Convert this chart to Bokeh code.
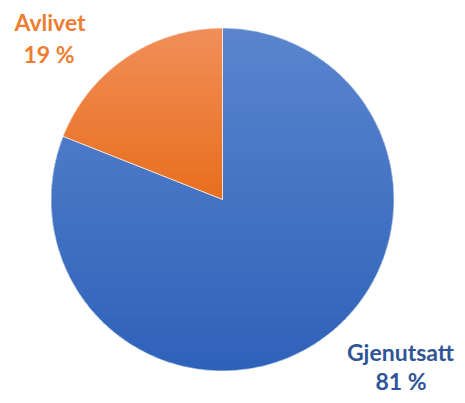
import numpy as np
from bokeh.plotting import figure
from bokeh.models import Range1d
from bokeh.embed import file_html
from bokeh.resources import INLINE
from bokeh.core.properties import value

# ---- data ----
categories = ["Gjenutsatt", "Avlivet"]
shares = [81, 19]
pct_labels = ["81 %", "19 %"]

# ---- style ----
grad_top = ["#5B85CE", "#F18F5A"]
grad_bottom = ["#2E62B9", "#E86E1D"]
label_colors = ["#2F5597", "#ED7D31"]

W, H = 457, 395
CX, CY = 222, 199  # pie centre in pixels from top-left
R = 171.5
p = figure(width=W, height=H, output_backend="svg", toolbar_location=None,
           x_range=Range1d(-CX, W - CX), y_range=Range1d(-(H - CY), CY),
           min_border=0)
p.axis.visible = False
p.grid.visible = False
p.outline_line_color = None
p.background_fill_color = "white"
p.border_fill_color = "white"


def hex2rgb(h):
    h = h.lstrip("#")
    return np.array([int(h[i:i + 2], 16) for i in (0, 2, 4)], dtype=float)


def rgb2hex(c):
    return "#%02x%02x%02x" % tuple(int(round(v)) for v in c)


def clip(poly, yv, keep_above):
    out = []
    n = len(poly)
    for i in range(n):
        a = poly[i]
        b = poly[(i + 1) % n]
        ina = a[1] >= yv if keep_above else a[1] <= yv
        inb = b[1] >= yv if keep_above else b[1] <= yv
        if ina:
            out.append(a)
        if ina != inb:
            t = (yv - a[1]) / (b[1] - a[1])
            out.append((a[0] + t * (b[0] - a[0]), yv))
    return out


total = float(sum(shares))
start = np.pi / 2
xs_all, ys_all, cols_all = [], [], []
wedges = []
for k, s in enumerate(shares):
    sweep = 2 * np.pi * s / total
    end = start - sweep
    th = np.linspace(start, end, max(12, int(500 * s / total)))
    poly = [(0.0, 0.0)] + [(R * np.cos(t), R * np.sin(t)) for t in th]
    wedges.append((end, start))
    ymin = min(q[1] for q in poly)
    ymax = max(q[1] for q in poly)
    N = 80
    ct, cb = hex2rgb(grad_top[k]), hex2rgb(grad_bottom[k])
    step = (ymax - ymin) / N
    for i in range(N):
        y1 = ymax - step * i + (1.2 if i > 0 else 0.0)  # overlap previous band
        y0 = ymax - step * (i + 1)
        band = clip(clip(poly, y0, True), y1, False)
        if len(band) < 3:
            continue
        f = (i + 0.5) / N
        xs_all.append([q[0] for q in band])
        ys_all.append([q[1] for q in band])
        cols_all.append(rgb2hex(ct + (cb - ct) * f))
    start = end

p.patches(xs_all, ys_all, fill_color=cols_all, line_color=None)

# thin light separators
p.wedge(x=[0, 0], y=[0, 0], radius=R,
        start_angle=[w[0] for w in wedges], end_angle=[w[1] for w in wedges],
        fill_color=None, line_color="white", line_width=0.7, line_alpha=0.7)

font = value("Lato")
# labels
name_x = [178, -172.5]
name_y = [-152, 178]
pct_x = [178.5, -173.5]
pct_y = [-181, 146]
p.text(x=name_x, y=name_y, text=categories, text_color=label_colors,
       text_font=font, text_font_style="bold", text_font_size="23px",
       text_align="center", text_baseline="alphabetic")
p.text(x=pct_x, y=pct_y, text=pct_labels, text_color=label_colors,
       text_font=font, text_font_style="bold", text_font_size="23px",
       text_align="center", text_baseline="alphabetic")

open("out.html", "w").write(file_html(p, INLINE))
